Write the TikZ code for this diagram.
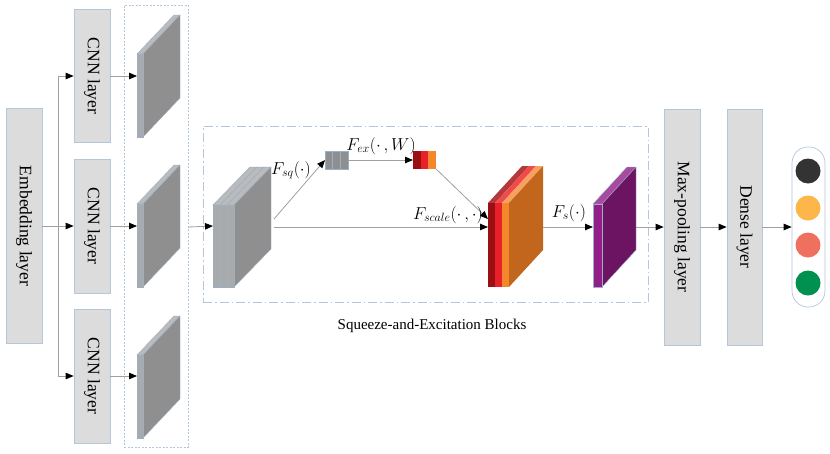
\documentclass[tikz,border=0pt]{standalone}
\usepackage{fontspec}
\setmainfont{Liberation Serif}
\usetikzlibrary{arrows.meta}
\definecolor{boxfill}{HTML}{DCDCDC}
\definecolor{boxline}{HTML}{B4C6DC}
\definecolor{conn}{HTML}{A0A0A0}
\definecolor{slabline}{HTML}{9AAFC8}
\definecolor{gfront}{HTML}{AAAAAA}
\definecolor{gside}{HTML}{8F8F8F}
\definecolor{gtop}{HTML}{BBBBBB}
\definecolor{rA}{HTML}{9B0F12}
\definecolor{rAt}{HTML}{B33A3A}
\definecolor{rB}{HTML}{E8202A}
\definecolor{rBt}{HTML}{F04A4A}
\definecolor{rC}{HTML}{F4862C}
\definecolor{rCt}{HTML}{F7A060}
\definecolor{rside}{HTML}{C1661C}
\definecolor{pfront}{HTML}{921E88}
\definecolor{pside}{HTML}{6C1462}
\definecolor{ptop}{HTML}{A84AA0}
\definecolor{cA}{HTML}{333333}
\definecolor{cB}{HTML}{FDB64A}
\definecolor{cC}{HTML}{F07060}
\definecolor{cD}{HTML}{009150}
% name, x0, ytop, w, h, {dx,dy}, front, side, top
\newcommand\myslab[9]{%
  \fill[#9,draw=slabline,line width=0.4pt] (#2,#3) -- ++(#6) -- ++(#4,0) -- ({#2+#4},#3) -- cycle;
  \fill[#8,draw=slabline,line width=0.4pt] ({#2+#4},#3) -- ++(#6) -- ++(0,#5) -- ({#2+#4},{#3+#5}) -- cycle;
  \node[slabfront,fill=#7,minimum width=#4pt,minimum height=#5pt] (#1) at (#2,#3) {};
}
\tikzset{
  layerbox/.style={draw=boxline,fill=boxfill,line width=0.7pt,inner sep=0pt},
  boxtext/.style={rotate=-90,font=\fontsize{17.5}{19}\selectfont,inner sep=0pt},
  slabfront/.style={draw=slabline,line width=0.4pt,anchor=north west,inner sep=0pt,outer sep=0pt},
  line/.style={draw=conn,line width=0.8pt},
  arr/.style={draw=conn,line width=0.8pt,-{Triangle[length=8pt,width=6.5pt,color=black]}},
  mlabel/.style={font=\fontsize{16.5}{19}\selectfont,inner sep=1pt},
  cell/.style={draw=slabline,line width=0.5pt,minimum width=7.7pt,minimum height=18pt,inner sep=0pt,outer sep=0pt},
  dot/.style={circle,minimum size=25pt,inner sep=0pt}
}
\begin{document}
\begin{tikzpicture}[x=1pt,y=-1pt]
\useasboundingbox (0,0) rectangle (830,453);
% group boxes
\node[draw=boxline,line width=0.6pt,dash pattern=on 2pt off 1.5pt,minimum width=64pt,minimum height=442pt,inner sep=0pt] (fmbox) at (156,226) {};
\node[draw=boxline,line width=0.8pt,dash pattern=on 9pt off 3pt on 1.5pt off 3pt,minimum width=445pt,minimum height=176pt,inner sep=0pt] (seblock) at (425.5,214) {};
\node[font=\fontsize{15}{18}\selectfont] (selabel) at (432,326) {Squeeze-and-Excitation Blocks};
% layer boxes
\node[layerbox,minimum width=36pt,minimum height=235pt] (emb) at (24,226) {};
\node[boxtext] (embT) at (emb) {Embedding layer};
\node[layerbox,minimum width=36pt,minimum height=133pt] (cnn1) at (92,76) {};
\node[boxtext] (cnn1T) at (cnn1) {CNN layer};
\node[layerbox,minimum width=36pt,minimum height=134pt] (cnn2) at (92,226) {};
\node[boxtext] (cnn2T) at (cnn2) {CNN layer};
\node[layerbox,minimum width=36pt,minimum height=134pt] (cnn3) at (92,376) {};
\node[boxtext] (cnn3T) at (cnn3) {CNN layer};
\node[layerbox,minimum width=36pt,minimum height=236pt] (maxp) at (682,227) {};
\node[boxtext] (maxpT) at (maxp) {Max-pooling layer};
\node[layerbox,minimum width=35pt,minimum height=236pt] (dense) at (744.5,227) {};
\node[boxtext] (denseT) at (dense) {Dense layer};
% output capsule
\node[draw=boxline,line width=0.7pt,fill=white,rounded corners=16pt,minimum width=33pt,minimum height=160pt,inner sep=0pt] (caps) at (808.5,227) {};
\node[dot,fill=cA] (c1) at (808,171) {};
\node[dot,fill=cB] (c2) at (808,208) {};
\node[dot,fill=cC] (c3) at (808,245) {};
\node[dot,fill=cD] (c4) at (808,283) {};
% CNN feature maps
\myslab{fm1}{137}{54}{6}{83}{37,-39}{gfront}{gside}{gtop}
\myslab{fm2}{137}{204}{6}{83}{37,-39}{gfront}{gside}{gtop}
\myslab{fm3}{137}{355}{6}{83}{37,-39}{gfront}{gside}{gtop}
% trunk
\coordinate (tm) at (58,226);
\coordinate (tt) at (58,76);
\coordinate (tb) at (58,376);
\draw[line] (emb.east) -- (tm);
\draw[line] (tt) -- (tb);
\draw[arr] (tt) -- (cnn1.west);
\draw[arr] (tm) -- (cnn2.west);
\draw[arr] (tb) -- (cnn3.west);
\draw[arr] (cnn1.east) -- (cnn1.east -| fm1.west);
\draw[arr] (cnn2.east) -- (cnn2.east -| fm2.west);
\draw[arr] (cnn3.east) -- (cnn3.east -| fm3.west);
% SE input stack
\node[inner sep=0pt,outer sep=0pt,minimum width=21pt,minimum height=82pt,anchor=north west] (se1) at (213,205) {};
\foreach \xx in {213,220,227}{
  \fill[gtop,draw=slabline,line width=0.5pt] (\xx,205) -- ++(37,-38) -- ++(7,0) -- ({\xx+7},205) -- cycle;
}
\fill[gside,draw=slabline,line width=0.4pt] (234,205) -- ++(37,-38) -- ++(0,82) -- (234,287) -- cycle;
\foreach \xx in {213,220,227}{
  \fill[gfront,draw=slabline,line width=0.5pt] (\xx,205) rectangle ++(7,82);
}
% squeeze and excitation bars
\node[cell,fill=gside,anchor=west] (sqa) at (325,160) {};
\node[cell,fill=gside,anchor=west] (sqb) at (sqa.east) {};
\node[cell,fill=gside,anchor=west] (sqc) at (sqb.east) {};
\node[cell,fill=rA,anchor=west,draw=none] (exa) at (413,160) {};
\node[cell,fill=rB,anchor=west,draw=none] (exb) at (exa.east) {};
\node[cell,fill=rC,anchor=west,draw=none] (exc) at (exb.east) {};
% output stack
\node[inner sep=0pt,outer sep=0pt,minimum width=21pt,minimum height=84pt,anchor=north west] (outs) at (488,203) {};
\fill[rAt] (488,203) -- ++(34,-37) -- ++(7,0) -- (495,203) -- cycle;
\fill[rBt] (495,203) -- ++(34,-37) -- ++(7,0) -- (502,203) -- cycle;
\fill[rCt] (502,203) -- ++(34,-37) -- ++(7,0) -- (509,203) -- cycle;
\fill[rside] (509,203) -- ++(34,-37) -- ++(0,84) -- (509,287) -- cycle;
\fill[rA] (488,203) rectangle ++(7,84);
\fill[rB] (495,203) rectangle ++(7,84);
\fill[rC] (502,203) rectangle ++(7,84);
% purple map
\myslab{pur}{593}{204}{9}{83}{34,-37}{pfront}{pside}{ptop}
% SE connectors
\coordinate (sqstart) at (274,219);
\coordinate (mainstart) at (274,227);
\coordinate (scaleend) at (488,219);
\coordinate (outside) at (543,227);
\coordinate (purside) at (636,227);
\draw[arr] (fmbox.east |- mainstart) -- (fmbox.east -| se1.west);
\draw[arr] (sqstart) -- (sqa.west);
\draw[arr] (sqc.east) -- (exa.west);
\draw[arr] (exc.south east) -- (scaleend);
\draw[arr] (mainstart) -- (mainstart -| outs.west);
\draw[arr] (outside) -- (outside -| pur.west);
\draw[arr] (purside) -- (purside -| maxp.west);
\draw[arr] (maxp.east |- purside) -- (purside -| dense.west);
\draw[arr] (dense.east |- purside) -- (purside -| caps.west);
% labels
\node[mlabel] (lsq) at (291,170) {$F_{sq}\bigl(\cdot\bigr)$};
\node[mlabel] (lex) at (381,146) {$F_{ex}\bigl(\cdot\,,W\bigr)$};
\node[mlabel] (lscale) at (448,215) {$F_{scale}\bigl(\cdot\,,\cdot\bigr)$};
\node[mlabel] (ls) at (569,213) {$F_{s}\bigl(\cdot\bigr)$};
\end{tikzpicture}
\end{document}
